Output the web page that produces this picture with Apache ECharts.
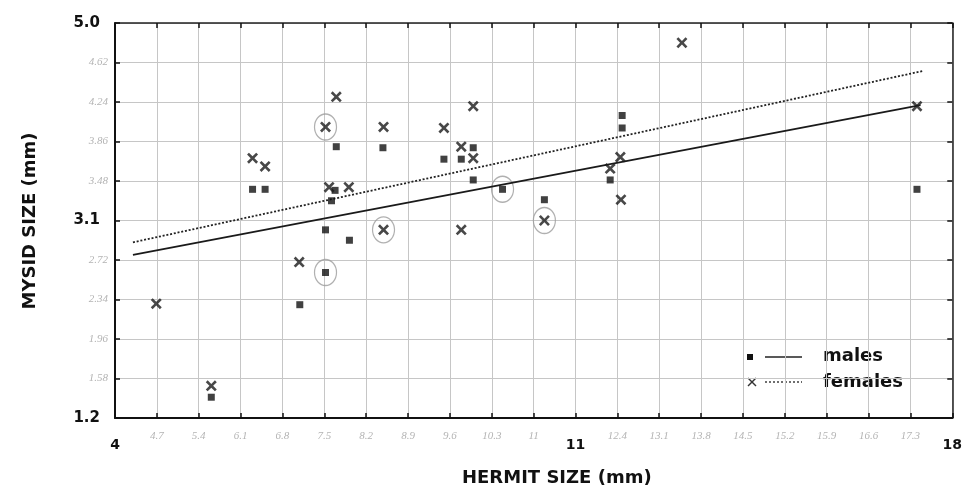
<!DOCTYPE html>
<html>
<head>
<meta charset="utf-8">
<script src="https://cdn.jsdelivr.net/npm/echarts@6/dist/echarts.min.js"></script>
<style>
html,body{margin:0;padding:0;background:#fff;}
#chart{width:965px;height:489px;}
</style>
</head>
<body>
<div id="chart"></div>
<script>
// ---- data ----
const males = [
  [5.61,1.40],[6.30,3.40],[6.51,3.40],[7.09,2.29],[7.52,2.60],[7.52,3.01],
  [7.62,3.29],[7.68,3.39],[7.70,3.81],[7.92,2.91],[8.48,3.80],[9.50,3.69],
  [9.79,3.69],[9.99,3.80],[9.99,3.49],[10.48,3.40],[11.18,3.30],[12.28,3.49],
  [12.48,3.99],[12.48,4.11],[17.41,3.40]
];
const females = [
  [4.69,2.30],[5.61,1.51],[6.30,3.70],[6.51,3.62],[7.08,2.70],[7.52,4.00],
  [7.58,3.42],[7.70,4.29],[7.91,3.42],[8.49,4.00],[8.49,3.01],[9.50,3.99],
  [9.79,3.81],[9.79,3.01],[9.99,4.20],[9.99,3.70],[11.18,3.10],[12.28,3.60],
  [12.45,3.71],[12.46,3.30],[13.48,4.81],[17.41,4.20]
];
const circled = [[7.52,4.00],[8.49,3.01],[10.48,3.40],[11.18,3.10],[7.52,2.60]];
const maleFit = [[4.30,2.77],[17.47,4.21]];
const femaleFit = [[4.30,2.89],[17.52,4.54]];

const xRange = [4, 18];
const yRange = [1.2, 5.0];
// tick labels (printed = bold, others are pencil annotations)
const xTickLabels = ['4','4.7','5.4','6.1','6.8','7.5','8.2','8.9','9.6','10.3','11','11','12.4','13.1','13.8','14.5','15.2','15.9','16.6','17.3','18'];
const xPrinted = [0, 11, 20];
const yTickLabels = ['1.2','1.58','1.96','2.34','2.72','3.1','3.48','3.86','4.24','4.62','5.0'];
const yPrinted = [0, 5, 10];

const xTitle = 'HERMIT SIZE (mm)';
const yTitle = 'MYSID SIZE (mm)';
const legendNames = ['males', 'females'];

const xMark = 'path://M0,1.7L1.7,0L5,3.3L8.3,0L10,1.7L6.7,5L10,8.3L8.3,10L5,6.7L1.7,10L0,8.3L3.3,5Z';

const chart = echarts.init(document.getElementById('chart'), null, {renderer:'canvas'});
const G = {left:115, top:23, width:842, height:395};
const boldFont = 'DejaVu Sans';
const penStyle = {fontFamily:'Liberation Serif', fontStyle:'italic', fontSize:11, color:'#b4b4b4'};

chart.setOption({
  animation:false,
  backgroundColor:'#ffffff',
  grid:G,
  xAxis:[
    {type:'value', min:xRange[0], max:xRange[1], show:false},
    {type:'value', min:0, max:xTickLabels.length-1, interval:1, position:'bottom',
     axisLine:{onZero:false, lineStyle:{color:'#111', width:2}},
     axisTick:{inside:true, length:5, lineStyle:{color:'#111', width:1.5}},
     splitLine:{show:true, lineStyle:{color:'#c6c6c6', width:1}},
     axisLabel:{margin:13, formatter:function(v){const i=Math.round(v);return xPrinted.indexOf(i)>=0?'{b|'+xTickLabels[i]+'}':'{h|'+xTickLabels[i]+'}';},
       rich:{b:{fontFamily:boldFont, fontWeight:'bold', fontSize:14, color:'#111', padding:[7,0,0,0]}, h:penStyle}}},
    {type:'value', min:0, max:xTickLabels.length-1, interval:1, position:'top',
     axisLine:{onZero:false, lineStyle:{color:'#222', width:1.5}},
     axisTick:{inside:true, length:5, lineStyle:{color:'#111', width:1.5}},
     splitLine:{show:false}, axisLabel:{show:false}}
  ],
  yAxis:[
    {type:'value', min:yRange[0], max:yRange[1], show:false},
    {type:'value', min:0, max:yTickLabels.length-1, interval:1, position:'left',
     axisLine:{onZero:false, lineStyle:{color:'#111', width:2}},
     axisTick:{inside:true, length:5, lineStyle:{color:'#111', width:1.5}},
     splitLine:{show:true, lineStyle:{color:'#c6c6c6', width:1}},
     axisLabel:{margin:7, formatter:function(v){const i=Math.round(v);return yPrinted.indexOf(i)>=0?'{b|'+yTickLabels[i]+'}':'{h|'+yTickLabels[i]+'}';},
       rich:{b:{fontFamily:boldFont, fontWeight:'bold', fontSize:15, color:'#111', padding:[0,8,0,0]}, h:penStyle}}},
    {type:'value', min:0, max:yTickLabels.length-1, interval:1, position:'right',
     axisLine:{onZero:false, lineStyle:{color:'#222', width:1.5}},
     axisTick:{inside:true, length:5, lineStyle:{color:'#111', width:1.5}},
     splitLine:{show:false}, axisLabel:{show:false}}
  ],
  series:[
    {name:'circled', type:'scatter', xAxisIndex:0, yAxisIndex:0, data:circled, symbol:'circle', symbolSize:[22,26],
     itemStyle:{color:'rgba(0,0,0,0)', borderColor:'#9c9c9c', borderWidth:1.3}, z:1, silent:true},
    {name:legendNames[0]+' fit', type:'line', xAxisIndex:0, yAxisIndex:0, data:maleFit, symbol:'none',
     lineStyle:{color:'#1a1a1a', width:1.7}, z:2},
    {name:legendNames[1]+' fit', type:'line', xAxisIndex:0, yAxisIndex:0, data:femaleFit, symbol:'none',
     lineStyle:{color:'#222', width:1.8, type:[2,1.8]}, z:2},
    {name:legendNames[0], type:'scatter', xAxisIndex:0, yAxisIndex:0, data:males, symbol:'rect', symbolSize:7,
     itemStyle:{color:'#111'}, z:3},
    {name:legendNames[1], type:'scatter', xAxisIndex:0, yAxisIndex:0, data:females, symbol:xMark, symbolSize:11,
     itemStyle:{color:'#1a1a1a'}, z:3}
  ],
  graphic:[
    {type:'text', x:462, y:469, style:{text:xTitle, fontFamily:boldFont, fontWeight:'bold', fontSize:18, fill:'#111'}},
    {type:'text', x:30, y:221, rotation:Math.PI/2, style:{text:yTitle, fontFamily:boldFont, fontWeight:'bold', fontSize:18, fill:'#111', align:'center', verticalAlign:'middle'}},
    {type:'rect', shape:{x:747, y:354, width:6, height:6}, style:{fill:'#111'}},
    {type:'line', shape:{x1:765, y1:357, x2:802, y2:357}, style:{stroke:'#222', lineWidth:1.4}},
    {type:'text', x:823, y:356, style:{text:legendNames[0], fontFamily:boldFont, fontWeight:'bold', fontSize:18, fill:'#111', verticalAlign:'middle'}},
    {type:'line', shape:{x1:748, y1:378, x2:756, y2:386}, style:{stroke:'#333', lineWidth:1.4}},
    {type:'line', shape:{x1:756, y1:378, x2:748, y2:386}, style:{stroke:'#333', lineWidth:1.4}},
    {type:'line', shape:{x1:765, y1:382, x2:802, y2:382}, style:{stroke:'#333', lineWidth:1.4, lineDash:[2,2]}},
    {type:'text', x:823, y:382, style:{text:legendNames[1], fontFamily:boldFont, fontWeight:'bold', fontSize:18, fill:'#111', verticalAlign:'middle'}}
  ]
});
</script>
</body>
</html>
